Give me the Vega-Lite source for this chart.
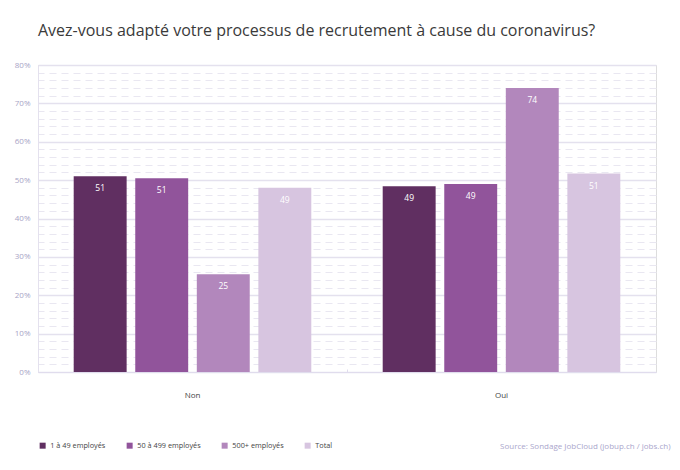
{
  "$schema": "https://vega.github.io/schema/vega-lite/v6.json",
  "width": 618,
  "height": 307,
  "autosize": {"type": "none"},
  "padding": {"left": 38, "top": 65, "right": 24, "bottom": 98},
  "background": "white",
  "title": {
    "text": "Avez-vous adapté votre processus de recrutement à cause du coronavirus?",
    "anchor": "start",
    "frame": "group",
    "font": "Open Sans",
    "fontSize": 16,
    "fontWeight": "normal",
    "color": "#3a3a3a",
    "offset": 22
  },
  "data": {
    "values": [
      {"reponse": "Non", "taille": "1 à 49 employés", "pct": 51.0, "label": "51"},
      {"reponse": "Non", "taille": "50 à 499 employés", "pct": 50.5, "label": "51"},
      {"reponse": "Non", "taille": "500+ employés", "pct": 25.5, "label": "25"},
      {"reponse": "Non", "taille": "Total", "pct": 48.0, "label": "49"},
      {"reponse": "Oui", "taille": "1 à 49 employés", "pct": 48.4, "label": "49"},
      {"reponse": "Oui", "taille": "50 à 499 employés", "pct": 49.0, "label": "49"},
      {"reponse": "Oui", "taille": "500+ employés", "pct": 74.0, "label": "74"},
      {"reponse": "Oui", "taille": "Total", "pct": 51.7, "label": "51"}
    ]
  },
  "encoding": {
    "x": {
      "field": "reponse",
      "type": "nominal",
      "sort": ["Non", "Oui"],
      "scale": {"paddingInner": 0, "paddingOuter": 0},
      "axis": {
        "labelAngle": 0,
        "labelPadding": 22,
        "labelFont": "Open Sans",
        "labelFontSize": 8,
        "labelColor": "#444444",
        "domainColor": "#e0dced",
        "ticks": true,
        "bandPosition": 0,
        "tickSize": -3,
        "tickColor": "#e0dced",
        "title": "Source: Sondage JobCloud (jobup.ch / jobs.ch)",
        "titleX": 632,
        "titleY": 74,
        "titleAlign": "right",
        "titleBaseline": "middle",
        "titleFont": "Open Sans",
        "titleFontSize": 8,
        "titleFontWeight": "normal",
        "titleColor": "#aaa6cc"
      }
    },
    "xOffset": {
      "field": "taille",
      "type": "nominal",
      "sort": ["1 à 49 employés", "50 à 499 employés", "500+ employés", "Total"],
      "scale": {"paddingInner": 0.14, "paddingOuter": 0.58}
    }
  },
  "layer": [
    {
      "mark": {"type": "bar"},
      "encoding": {
        "y": {
          "field": "pct",
          "type": "quantitative",
          "scale": {"domain": [0, 80]},
          "axis": {
            "values": [0, 10, 20, 30, 40, 50, 60, 70, 80],
            "labelExpr": "datum.value + '%'",
            "labelFont": "Open Sans",
            "labelFontSize": 8,
            "labelColor": "#a8a4c6",
            "labelPadding": 8,
            "ticks": false,
            "domain": true,
            "domainColor": "#e4e1ee",
            "grid": true,
            "gridColor": "#e4e1ee",
            "gridWidth": 1.5,
            "title": null
          }
        },
        "color": {
          "field": "taille",
          "type": "nominal",
          "sort": ["1 à 49 employés", "50 à 499 employés", "500+ employés", "Total"],
          "scale": {
            "domain": ["1 à 49 employés", "50 à 499 employés", "500+ employés", "Total"],
            "range": ["#602f61", "#91549b", "#b287bc", "#d7c5e0"]
          },
          "legend": {
            "orient": "none",
            "legendX": 1,
            "legendY": 377,
            "direction": "horizontal",
            "columns": 4,
            "title": null,
            "symbolType": "square",
            "symbolSize": 36,
            "symbolStrokeWidth": 0,
            "symbolOpacity": 1,
            "labelFont": "Open Sans",
            "labelFontSize": 7.3,
            "labelColor": "#444444",
            "labelOffset": 4,
            "columnPadding": 20
          }
        }
      }
    },
    {
      "mark": {
        "type": "text",
        "color": "white",
        "baseline": "middle",
        "dy": 12,
        "font": "Open Sans",
        "fontSize": 8.5
      },
      "encoding": {
        "y": {
          "field": "pct",
          "type": "quantitative",
          "axis": {
            "orient": "right",
            "values": [2, 4, 6, 8, 12, 14, 16, 18, 22, 24, 26, 28, 32, 34, 36, 38, 42, 44, 46, 48, 52, 54, 56, 58, 62, 64, 66, 68, 72, 74, 76, 78],
            "labels": false,
            "ticks": false,
            "domain": false,
            "grid": true,
            "gridColor": "#e9e7f1",
            "gridDash": [7, 5],
            "gridWidth": 1,
            "title": null
          }
        },
        "text": {"field": "label"}
      }
    }
  ],
  "resolve": {"axis": {"y": "independent"}}
}
